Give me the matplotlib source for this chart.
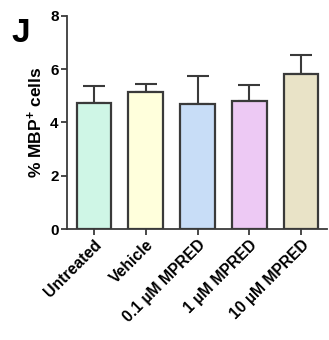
import matplotlib
matplotlib.use("Agg")
import matplotlib.pyplot as plt

plt.rcParams['font.family'] = ['Liberation Sans', 'DejaVu Sans']
plt.rcParams['font.weight'] = 'bold'
plt.rcParams['mathtext.fontset'] = 'custom'
plt.rcParams['mathtext.rm'] = 'Liberation Sans:bold'
plt.rcParams['mathtext.bf'] = 'Liberation Sans:bold'
plt.rcParams['mathtext.default'] = 'bf'

categories = ["Untreated", "Vehicle", "0.1 \u00b5M MPRED", "1 \u00b5M MPRED", "10 \u00b5M MPRED"]
means = [4.73, 5.14, 4.70, 4.79, 5.80]
sems = [0.64, 0.30, 1.05, 0.61, 0.73]
colors = ["#CFF6E6", "#FFFFDC", "#C8DDF7", "#EDC9F4", "#E9E3C7"]

fig = plt.figure(figsize=(3.29, 3.40), dpi=100)
ax = fig.add_axes([67/329, 110.7/340, 260/329, 213.6/340])

x = range(len(categories))
ax.bar(x, means, width=0.67, color=colors, edgecolor="#3a3a3a", linewidth=1.6, zorder=2)
ax.errorbar(x, means, yerr=[[0]*len(sems), sems], fmt='none', ecolor="#3a3a3a",
            elinewidth=1.5, capsize=8, capthick=1.5, zorder=1)

ax.set_xlim(-0.52, 4.5)
ax.set_ylim(0, 8)
ax.set_yticks([0, 2, 4, 6, 8])
ax.set_xticks(list(x))
ax.set_xticklabels(categories, rotation=45, ha='right', va='top', rotation_mode='anchor')
for lab in ax.get_xticklabels():
    lab.set_fontsize(11.3)
    lab.set_fontweight('bold')
for lab in ax.get_yticklabels():
    lab.set_fontsize(11)
    lab.set_fontweight('bold')

for s in ['top', 'right']:
    ax.spines[s].set_visible(False)
for s in ['left', 'bottom']:
    ax.spines[s].set_linewidth(1.3)
    ax.spines[s].set_color("#3a3a3a")
ax.tick_params(axis='both', direction='out', length=4, width=1.3, color="#3a3a3a", pad=2)

ax.set_ylabel("% MBP$^{+}$ cells", fontsize=12.5, fontweight='bold', labelpad=4)

fig.text(11/329, 1 - 34/340, "J", fontsize=24, fontweight='bold', ha='left', va='center')

fig.savefig("out.png", dpi=100)
